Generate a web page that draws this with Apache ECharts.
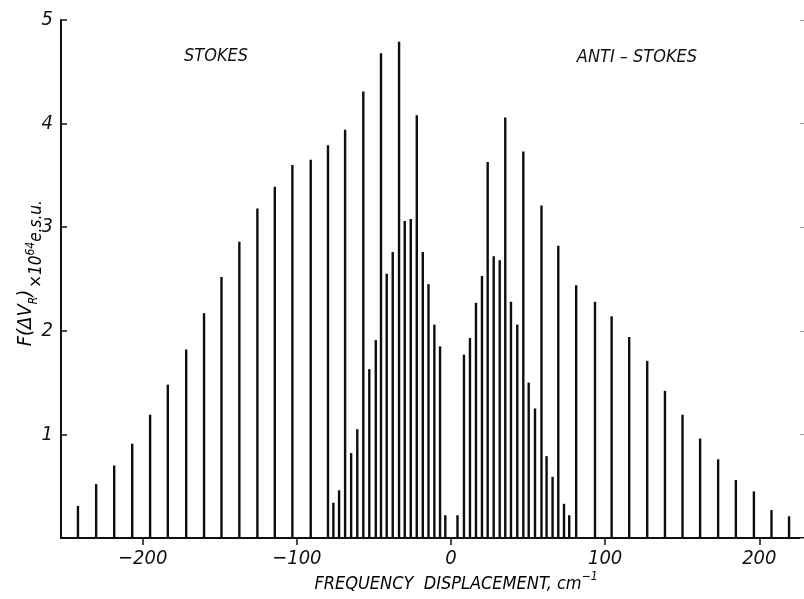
<!DOCTYPE html>
<html><head><meta charset="utf-8">
<script src="https://cdn.jsdelivr.net/npm/echarts@6/dist/echarts.min.js"></script>
<style>html,body{margin:0;padding:0;background:#fff}#c{width:804px;height:599px}</style>
</head><body><div id="c"></div>
<script>
const FONT = "'Liberation Sans Narrow','DejaVu Sans Condensed','DejaVu Sans',sans-serif";

// Stokes side: strong lines (every third line) and weak inner lines
const stokesStrongPos = [-242.0,-230.2,-218.5,-206.8,-195.2,-183.7,-171.8,-160.2,-148.9,-137.3,-125.6,-114.3,-102.9,-91.0,-79.8,-68.7,-56.9,-45.4,-33.7,-22.2,-10.8];
const stokesStrongVal = [0.31,0.52,0.70,0.91,1.19,1.48,1.82,2.17,2.52,2.86,3.18,3.39,3.60,3.65,3.79,3.94,4.31,4.68,4.79,4.08,2.06];
const stokesWeakPos = [-76.3,-72.6,-64.8,-60.8,-53.0,-48.8,-41.7,-37.8,-30.0,-26.1,-18.3,-14.6,-7.1,-3.7];
const stokesWeakVal = [0.34,0.46,0.82,1.05,1.63,1.91,2.55,2.76,3.06,3.08,2.76,2.45,1.85,0.22];

// Anti-Stokes side
const antiStrongPos = [12.3,23.8,35.2,46.9,58.7,69.6,81.2,93.4,104.2,115.6,127.3,138.8,150.2,161.6,173.3,184.8,196.5,207.9,219.3];
const antiStrongVal = [1.93,3.63,4.06,3.73,3.21,2.82,2.44,2.28,2.14,1.94,1.71,1.42,1.19,0.96,0.76,0.56,0.45,0.27,0.21];
const antiWeakPos = [4.2,8.4,16.2,20.1,27.7,31.6,38.9,43.0,50.4,54.5,62.0,65.9,73.3,76.7];
const antiWeakVal = [0.22,1.77,2.27,2.53,2.72,2.68,2.28,2.06,1.50,1.25,0.79,0.59,0.33,0.22];

const xTicks = [-200,-100,0,100,200];
const yTickLabels = ['', '1', '2', '3', '4', '5'];

function pairs(p, v) { return p.map((x, i) => [x, v[i]]); }

const chart = echarts.init(document.getElementById('c'), null, {renderer: 'canvas'});
const barBase = {type: 'bar', barWidth: 2.4, barGap: '-100%', itemStyle: {color: '#0d0d0d'}, silent: true};
const txt = {fontFamily: FONT, fontStyle: 'italic', color: '#111'};

chart.setOption({
  animation: false,
  backgroundColor: '#fff',
  grid: {left: 61, right: 0, top: 20, bottom: 61},
  xAxis: {
    type: 'value', min: -253, max: 229,
    axisLine: {onZero: false, lineStyle: {color: '#111', width: 2}},
    axisTick: {customValues: xTicks, length: 7, lineStyle: {color: '#111', width: 1.5}},
    axisLabel: {customValues: xTicks, margin: 11, fontSize: 20, ...txt,
      formatter: v => v < 0 ? '\u2212' + (-v) : String(v)},
    splitLine: {show: false}
  },
  yAxis: [{
    type: 'value', min: 0, max: 5, interval: 1, position: 'left',
    axisLine: {show: true, onZero: false, lineStyle: {color: '#111', width: 2}},
    axisTick: {show: true, inside: true, length: 6, lineStyle: {color: '#111', width: 1.5}},
    axisLabel: {margin: 8, fontSize: 20, ...txt, formatter: v => yTickLabels[Math.round(v)]},
    splitLine: {show: false}
  }, {
    type: 'value', min: 0, max: 5, interval: 1, position: 'right',
    axisLine: {show: false, onZero: false},
    axisTick: {show: true, inside: true, length: 4, lineStyle: {color: '#999', width: 1}},
    axisLabel: {show: false},
    splitLine: {show: false}
  }],
  series: [
    {...barBase, name: 'Stokes strong', data: pairs(stokesStrongPos, stokesStrongVal)},
    {...barBase, name: 'Stokes weak', data: pairs(stokesWeakPos, stokesWeakVal)},
    {...barBase, name: 'Anti-Stokes strong', data: pairs(antiStrongPos, antiStrongVal)},
    {...barBase, name: 'Anti-Stokes weak', data: pairs(antiWeakPos, antiWeakVal)}
  ],
  graphic: [
    {type: 'text', x: 216, y: 56, style: {text: 'STOKES', font: `italic 18px ${FONT}`, fill: '#111', textAlign: 'center', textVerticalAlign: 'middle'}},
    {type: 'text', x: 637, y: 57, style: {text: 'ANTI \u2013 STOKES', font: `italic 18px ${FONT}`, fill: '#111', textAlign: 'center', textVerticalAlign: 'middle'}},
    {type: 'text', x: 456, y: 584, style: {
      text: '{a|FREQUENCY  DISPLACEMENT, cm}{s|\u22121}',
      textAlign: 'center', textVerticalAlign: 'middle',
      rich: {
        a: {fontFamily: FONT, fontStyle: 'italic', fontSize: 18, color: '#111', lineHeight: 26, verticalAlign: 'middle'},
        s: {fontFamily: FONT, fontStyle: 'italic', fontSize: 12, color: '#111', lineHeight: 12, verticalAlign: 'top'}
      }}},
    {type: 'text', x: 26, y: 318, rotation: Math.PI / 2, style: {
      text: '{a|F(\u0394V}{s|R}{a|)}',
      textAlign: 'center', textVerticalAlign: 'middle',
      rich: {
        a: {fontFamily: FONT, fontStyle: 'italic', fontSize: 20, color: '#111', lineHeight: 28, verticalAlign: 'middle'},
        s: {fontFamily: FONT, fontStyle: 'italic', fontSize: 12, color: '#111', lineHeight: 12, verticalAlign: 'bottom'}
      }}},
    {type: 'text', x: 37, y: 244, rotation: Math.PI / 2, style: {
      text: '{a|\u00d710}{s|64}{a|e.s.u.}',
      textAlign: 'center', textVerticalAlign: 'middle',
      rich: {
        a: {fontFamily: FONT, fontStyle: 'italic', fontSize: 17, color: '#111', lineHeight: 24, verticalAlign: 'middle'},
        s: {fontFamily: FONT, fontStyle: 'italic', fontSize: 12, color: '#111', lineHeight: 12, verticalAlign: 'top'}
      }}}
  ]
});
</script>
</body></html>
